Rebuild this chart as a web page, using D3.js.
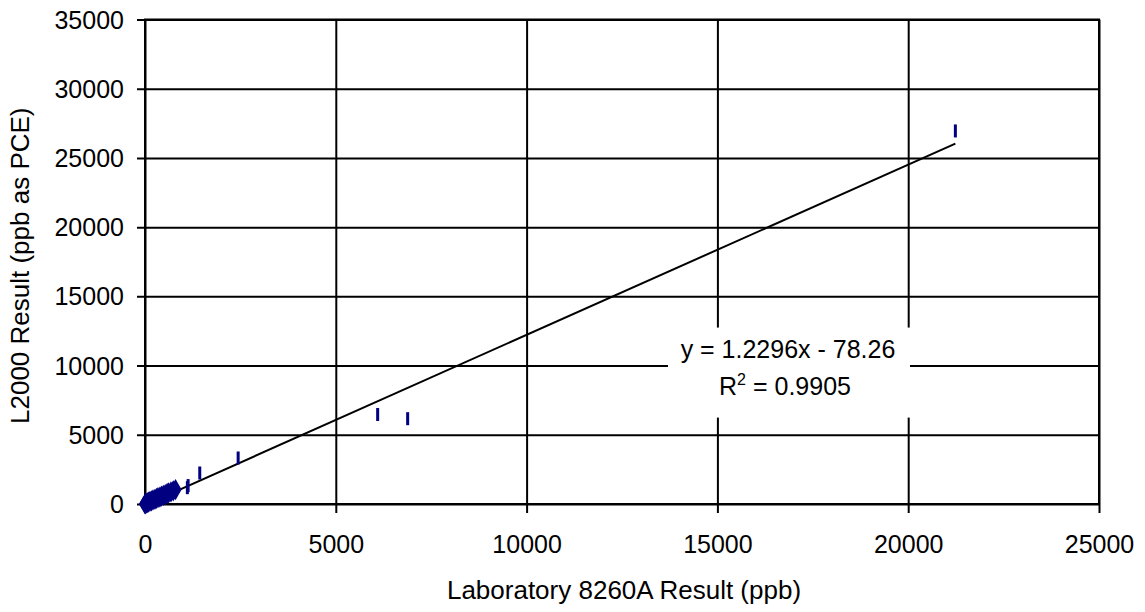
<!DOCTYPE html>
<html>
<head>
    <script src="https://cdnjs.cloudflare.com/ajax/libs/d3/7.8.5/d3.min.js"></script>
    <style>
        body { margin: 0; background: white; }
        text { font-family: "Liberation Sans", Arial, sans-serif; fill: #000; }
    </style>
</head>
<body>
    <div id="chart"></div>
    <script>
        // tick values
        const xTicks = [0, 5000, 10000, 15000, 20000, 25000];
        const yTicks = [0, 5000, 10000, 15000, 20000, 25000, 30000, 35000];

        // low range points (drawn as diamonds)
        const lowX = [0, 10, 30, 60, 90, 130, 170, 210, 260, 300, 340, 390, 430, 480, 530, 580, 620, 680, 740, 800];
        const lowY = [0, 20, 60, 90, 140, 190, 230, 290, 340, 400, 460, 500, 570, 620, 680, 760, 800, 870, 950, 1040];

        // higher points (drawn as dash markers)
        const highX = [1110, 1130, 1435, 2441, 6097, 6883, 21236];
        const highY = [1180, 1330, 2240, 3324, 6467, 6163, 26950];

        // trendline
        const slope = 1.2296;
        const intercept = -78.26;
        const eqText = 'y = 1.2296x - 78.26';
        const r2Text = ' = 0.9905';

        const W = 1145, H = 612;
        const margin = {top: 19.5, right: 46, bottom: 108, left: 145};
        const width = W - margin.left - margin.right;
        const height = H - margin.top - margin.bottom;

        const svg = d3.select('#chart')
            .append('svg')
            .attr('width', W)
            .attr('height', H);

        const g = svg.append('g')
            .attr('transform', `translate(${margin.left},${margin.top})`);

        const x = d3.scaleLinear().domain([0, 25000]).range([0, width]);
        const y = d3.scaleLinear().domain([0, 35000]).range([height, 0]);

        // y axis + gridlines
        const yAxis = g.append('g')
            .call(d3.axisLeft(y).tickValues(yTicks).tickSizeOuter(0).tickFormat(d3.format('d')));
        yAxis.select('.domain').remove();
        yAxis.selectAll('.tick line')
            .attr('x1', -8).attr('x2', width)
            .attr('stroke', '#000').attr('stroke-width', 2);
        yAxis.selectAll('.tick text')
            .attr('x', -21).attr('dy', '0.34em')
            .style('font-size', '25px');

        // x axis + gridlines
        const xAxis = g.append('g')
            .attr('transform', `translate(0,${height})`)
            .call(d3.axisBottom(x).tickValues(xTicks).tickSizeOuter(0).tickFormat(d3.format('d')));
        xAxis.select('.domain').remove();
        xAxis.selectAll('.tick line')
            .attr('y1', 9).attr('y2', -height)
            .attr('stroke', '#000').attr('stroke-width', 2);
        xAxis.selectAll('.tick text')
            .attr('y', 31).attr('dy', '0.71em')
            .style('font-size', '25px');

        // plot frame
        g.append('rect')
            .attr('width', width).attr('height', height)
            .attr('fill', 'none').attr('stroke', '#000').attr('stroke-width', 2);

        // trendline
        const xMin = d3.min(lowX), xMax = d3.max(highX);
        g.append('line')
            .attr('x1', x(xMin)).attr('y1', y(slope * xMin + intercept))
            .attr('x2', x(xMax)).attr('y2', y(slope * xMax + intercept))
            .attr('stroke', '#000').attr('stroke-width', 2);

        // low points as diamonds
        g.selectAll('.dia')
            .data(lowX.map((v, i) => [v, lowY[i]]))
            .enter().append('path')
            .attr('class', 'dia')
            .attr('d', d3.symbol().type(d3.symbolDiamond).size(130))
            .attr('transform', d => `translate(${x(d[0])},${y(d[1])})`)
            .attr('fill', '#000080');

        // higher points as dashes
        g.selectAll('.dash')
            .data(highX.map((v, i) => [v, highY[i]]))
            .enter().append('rect')
            .attr('class', 'dash')
            .attr('x', d => x(d[0]) - 1.5)
            .attr('y', d => y(d[1]) - 6.5)
            .attr('width', 3).attr('height', 13)
            .attr('fill', '#000080');

        // equation label
        const eqX = x(16850), eqY = y(10000);
        g.append('rect')
            .attr('x', eqX - 120).attr('y', eqY - 38)
            .attr('width', 242).attr('height', 90)
            .attr('fill', 'white');
        g.append('text')
            .attr('x', eqX).attr('y', eqY - 8)
            .attr('text-anchor', 'middle')
            .style('font-size', '25px')
            .text(eqText);
        const r2 = g.append('text')
            .attr('x', eqX - 3).attr('y', eqY + 29)
            .attr('text-anchor', 'middle')
            .style('font-size', '25px');
        r2.append('tspan').text('R');
        r2.append('tspan').attr('dy', -10).style('font-size', '16px').text('2');
        r2.append('tspan').attr('dy', 10).text(r2Text);

        // axis titles
        svg.append('text')
            .attr('x', margin.left + width / 2 + 2)
            .attr('y', 599)
            .attr('text-anchor', 'middle')
            .style('font-size', '26px')
            .text('Laboratory 8260A Result (ppb)');

        svg.append('text')
            .attr('transform', `translate(29,${margin.top + height / 2 + 4}) rotate(-90)`)
            .attr('text-anchor', 'middle')
            .style('font-size', '26px')
            .text('L2000 Result (ppb as PCE)');
    </script>
</body>
</html>
